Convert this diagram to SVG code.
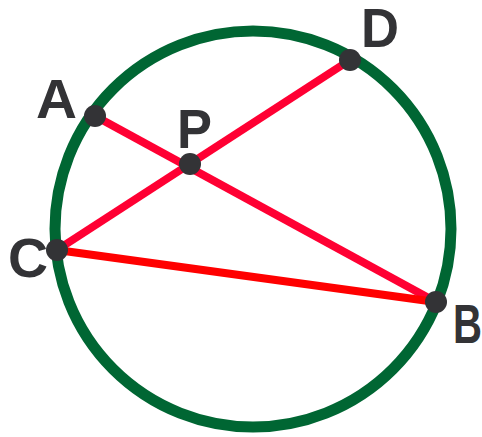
<svg xmlns="http://www.w3.org/2000/svg" width="482" height="437" viewBox="0 0 482 437">
<style>
.circle{fill:none;stroke:#006633;stroke-width:11}
.chord{stroke:#FF0033;stroke-width:8;stroke-linecap:butt}
.base{stroke:#FF0000;stroke-width:8}
.dot{fill:#333336}
.lbl{font-family:"Liberation Sans",Arial,sans-serif;font-weight:bold;font-size:56px;fill:#333336}
</style>
<rect width="482" height="437" fill="#ffffff"/>
<g id="circle"><circle class="circle" cx="253" cy="229" r="198"/></g>
<g id="connectors">
<line class="chord" x1="95" y1="116" x2="436" y2="302"/>
<line class="chord" x1="57" y1="250" x2="350" y2="60"/>
<line class="base" x1="57" y1="250" x2="436" y2="302"/>
</g>
<g id="A"><circle class="dot" cx="95" cy="116" r="11"/><text class="lbl" x="36" y="118" textLength="41" lengthAdjust="spacingAndGlyphs">A</text></g>
<g id="D"><circle class="dot" cx="350" cy="60" r="11"/><text class="lbl" x="361" y="47" textLength="38" lengthAdjust="spacingAndGlyphs">D</text></g>
<g id="P"><circle class="dot" cx="190" cy="164" r="11"/><text class="lbl" x="177" y="148" textLength="35" lengthAdjust="spacingAndGlyphs">P</text></g>
<g id="C"><circle class="dot" cx="57" cy="250" r="11"/><text class="lbl" x="8" y="277" textLength="40" lengthAdjust="spacingAndGlyphs">C</text></g>
<g id="B"><circle class="dot" cx="436" cy="302" r="11"/><text class="lbl" x="453" y="343" textLength="29" lengthAdjust="spacingAndGlyphs">B</text></g>
</svg>
